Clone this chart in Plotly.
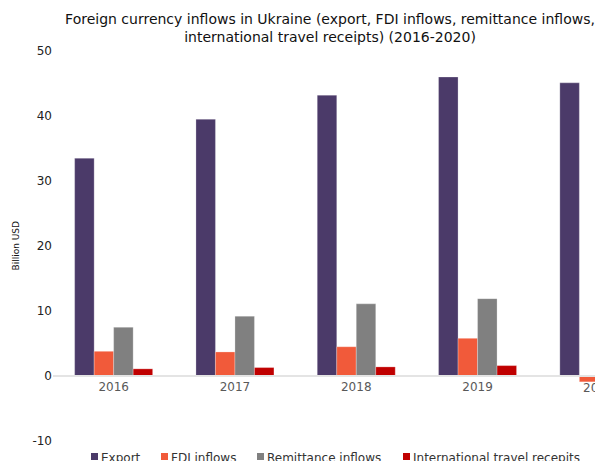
import plotly.graph_objects as go

years = ["2016", "2017", "2018", "2019", "2020"]
export = [33.5, 39.5, 43.2, 46.0, 45.1]
fdi = [3.8, 3.7, 4.5, 5.8, -0.9]
remittance = [7.5, 9.2, 11.1, 11.9, 12.0]
travel = [1.1, 1.3, 1.4, 1.6, 0.6]
y_ticks = [-10, 0, 10, 20, 30, 40, 50]

names = ["Export", "FDI inflows", "Remittance inflows", "International travel recepits"]
values = [export, fdi, remittance, travel]
colors = ["#4b3a69", "#f15a3a", "#808080", "#c00000"]

# layout constants (pixels)
W, H = 595, 461
L, R, T, B = 53, 0, 51, 20
legend_px = [91, 161, 257, 403]

fig = go.Figure()
for name, vals, color in zip(names, values, colors):
    fig.add_trace(go.Bar(
        x=years, y=vals, name=name, showlegend=False,
        marker=dict(color=color, line=dict(color="rgba(255,255,255,0.5)", width=0.5)),
    ))

pw, ph = W - L - R, H - T - B
x_range = [-0.5, pw / 121.3 - 0.5]
y_range = [-10, 50]

def px_x(px):
    return (px - L) / pw
def px_y(py):
    return (H - B - py) / ph

shapes, annotations = [], []
for name, color, x0 in zip(names, colors, legend_px):
    shapes.append(dict(type="rect", xref="paper", yref="paper",
                       x0=px_x(x0), x1=px_x(x0 + 7), y0=px_y(460), y1=px_y(453),
                       fillcolor=color, line=dict(width=0)))
    annotations.append(dict(text=name, xref="paper", yref="paper",
                            x=px_x(x0 + 8), y=px_y(457.5), xanchor="left", yanchor="middle",
                            showarrow=False, font=dict(size=12, color="#333")))

# category label of the last (clipped) group, which lies beyond the visible axis range
idx = len(years) - 1
annotations.append(dict(text=years[idx], xref="paper", yref="paper",
                        x=(idx - x_range[0]) / (x_range[1] - x_range[0]),
                        y=(0 - y_range[0]) / (y_range[1] - y_range[0]),
                        yshift=-3, xanchor="center", yanchor="top", showarrow=False,
                        font=dict(size=12, color="#595959")))
# y-axis title
annotations.append(dict(text="Billion USD", xref="paper", yref="paper",
                        x=px_x(15.5), y=0.5, xanchor="center", yanchor="middle",
                        textangle=-90, showarrow=False, font=dict(size=9, color="#111")))

fig.update_layout(
    width=W, height=H,
    margin=dict(l=L, r=R, t=T, b=B),
    paper_bgcolor="white", plot_bgcolor="white",
    font=dict(family="DejaVu Sans", size=12, color="#222"),
    barmode="group", bargap=0.357, bargroupgap=0,
    title=dict(
        text="Foreign currency inflows in Ukraine (export, FDI inflows, remittance inflows,<br>international travel receipts) (2016-2020)",
        x=330 / W, xref="container", xanchor="center",
        y=1 - 24 / H, yref="container", yanchor="top",
        font=dict(family="DejaVu Sans", size=14, color="#111"),
    ),
    xaxis=dict(
        type="category",
        range=x_range,
        anchor="free", position=10 / 60,
        showline=True, linecolor="#e4e4e4", linewidth=2,
        ticks="", showgrid=False, zeroline=False,
        tickfont=dict(size=12, color="#595959"),
    ),
    yaxis=dict(
        range=y_range, tickvals=y_ticks, ticktext=[str(v) for v in y_ticks],
        showgrid=False, zeroline=False, showline=False, ticks="",
        tickfont=dict(size=12, color="#222"),
    ),
    shapes=shapes,
    annotations=annotations,
)

fig.write_html("out.html")
